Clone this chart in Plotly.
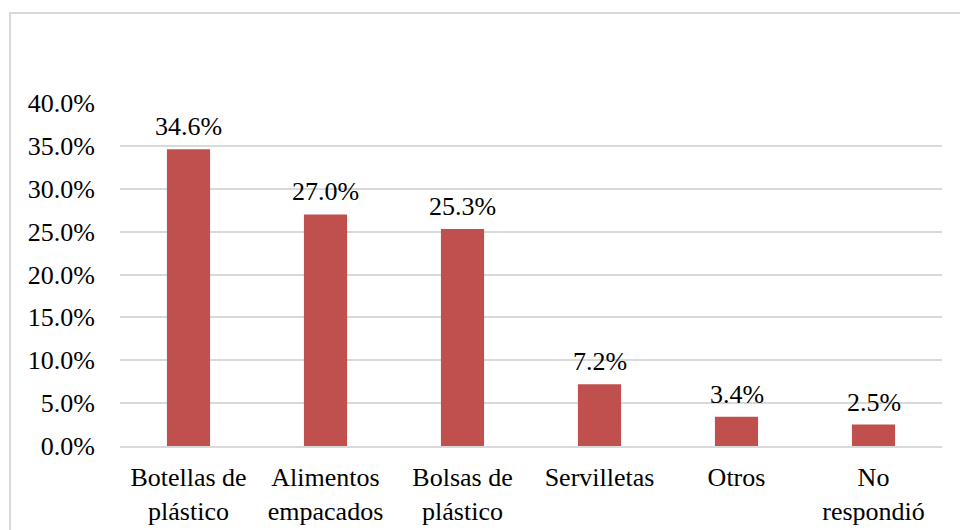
import plotly.graph_objects as go

categories = ["Botellas de<br>plástico", "Alimentos<br>empacados", "Bolsas de<br>plástico",
              "Servilletas", "Otros", "No<br>respondió"]
values = [34.6, 27.0, 25.3, 7.2, 3.4, 2.5]
tick_vals = [0, 5, 10, 15, 20, 25, 30, 35, 40]
tick_text = [f"{v:.1f}%" for v in tick_vals]

L, R, T, B = 120, 18, 103, 84
W, H = 960, 530
pw, ph = W - L - R, H - T - B
FS = 26
FONT = "Times New Roman, Liberation Serif, serif"

fig = go.Figure(go.Bar(
    x=categories, y=values,
    marker=dict(color="#C0504D", line=dict(width=0)),
    cliponaxis=False,
    width=0.315,
    hoverinfo="skip",
))

for c, v in zip(categories, values):
    fig.add_annotation(x=c, y=v, xref="x", yref="y", text=f"{v:.1f}%",
                       showarrow=False, yanchor="bottom", yshift=6,
                       font=dict(family=FONT, size=FS, color="#000000"))

fig.update_layout(
    width=W, height=H,
    margin=dict(l=L, r=R, t=T, b=B, autoexpand=False),
    paper_bgcolor="white", plot_bgcolor="white",
    font=dict(family=FONT, size=FS, color="#000000"),
    showlegend=False,
    xaxis=dict(showgrid=False, showline=True, linecolor="#D9D9D9", linewidth=1.5,
               ticks="", ticklabelstandoff=7, tickfont=dict(family=FONT, size=FS),
               automargin=False),
    yaxis=dict(range=[0, 40], tickvals=tick_vals, ticktext=tick_text,
               showgrid=True, gridcolor="#D9D9D9", gridwidth=1.5,
               zeroline=False, showline=False, ticks="",
               ticklabelstandoff=24, tickfont=dict(family=FONT, size=FS),
               automargin=False),
    shapes=[dict(type="rect", xref="paper", yref="paper",
                 x0=(10 - L) / pw, x1=(975 - L) / pw,
                 y0=-(545 - T - ph) / ph, y1=1 + (T - 13) / ph,
                 line=dict(color="#D9D9D9", width=2), fillcolor="rgba(0,0,0,0)",
                 layer="below")],
)

fig.write_html("out.html", config={"displayModeBar": False},
               post_script="document.body.style.margin='0';")
